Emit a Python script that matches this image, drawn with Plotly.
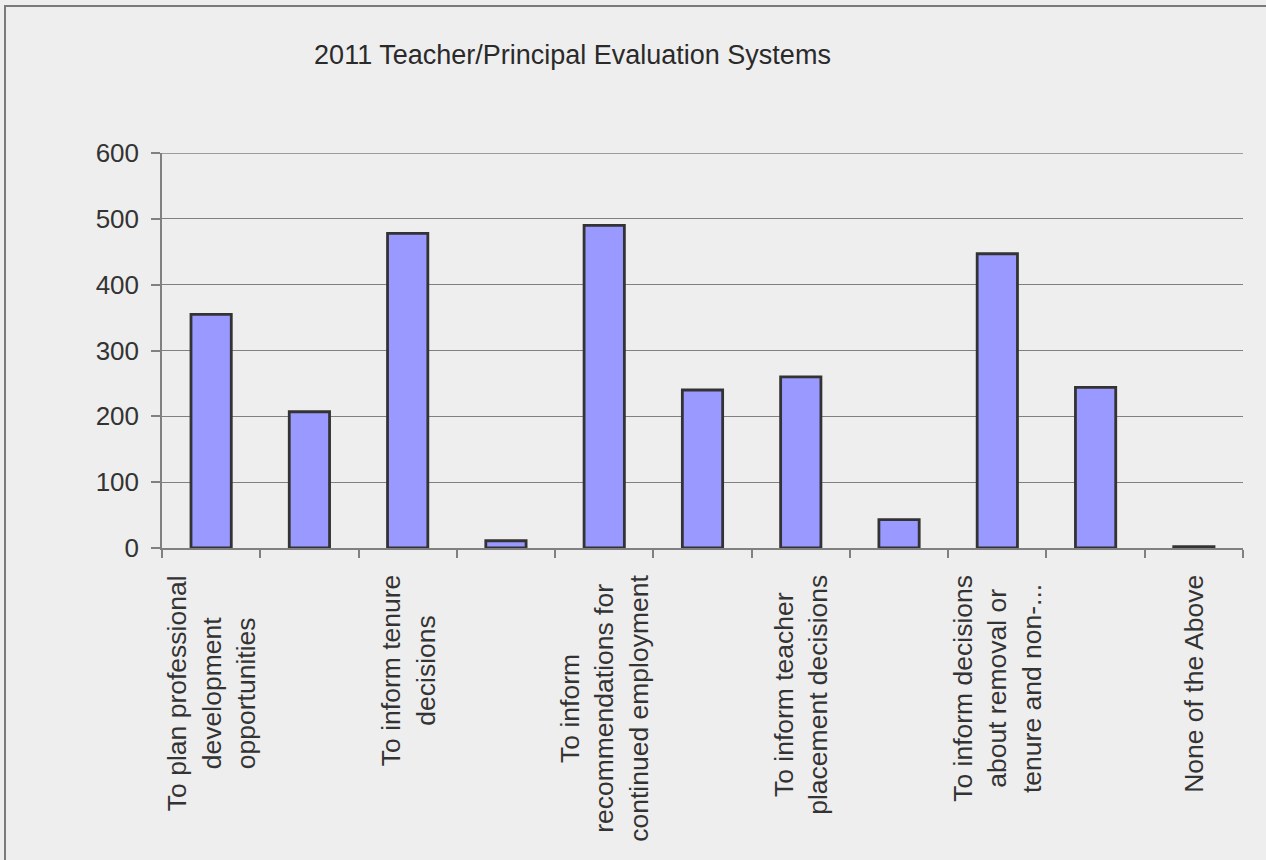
import plotly.graph_objects as go

# ---- data ----
categories = [
    "To plan professional<br>development<br>opportunities",
    "Category 2 (label not shown)",
    "To inform tenure<br>decisions",
    "Category 4 (label not shown)",
    "To inform<br>recommendations for<br>continued employment",
    "Category 6 (label not shown)",
    "To inform teacher<br>placement decisions",
    "Category 8 (label not shown)",
    "To inform decisions<br>about removal or<br>tenure and non-...",
    "Category 10 (label not shown)",
    "None of the Above",
]
label_shown = [True, False, True, False, True, False, True, False, True, False, True]
values = [355, 207, 478, 11, 490, 240, 260, 43, 447, 244, 2]
y_ticks = [0, 100, 200, 300, 400, 500, 600]
title_text = "2011 Teacher/Principal Evaluation Systems"

FONT = "Liberation Sans, Arial, sans-serif"
TXT = "#333333"
GRID = "#808080"

fig = go.Figure()
fig.add_trace(go.Bar(
    x=categories, y=values,
    marker=dict(color="#9999ff", line=dict(color="#333333", width=2.8)),
    showlegend=False, hoverinfo="x+y",
))

for cat, show in zip(categories, label_shown):
    if show:
        fig.add_annotation(
            x=cat, xref="x", y=0, yref="y",
            text=cat, textangle=-90, showarrow=False,
            xanchor="center", yanchor="top", yshift=-25,
            align="center",
            font=dict(family=FONT, size=26.5, color=TXT),
        )

fig.update_layout(
    width=1266, height=860,
    paper_bgcolor="#eeeeee", plot_bgcolor="#eeeeee",
    margin=dict(l=162, r=23, t=153, b=312, autoexpand=False),
    bargap=0.59,
    title=dict(
        text=title_text, xref="container", yref="container",
        x=572.5 / 1266, y=1 - 55 / 860, xanchor="center", yanchor="middle",
        font=dict(family=FONT, size=27, color="#2a2a2a"),
    ),
    xaxis=dict(
        type="category", showticklabels=False, showgrid=False,
        showline=True, linecolor=GRID, linewidth=1.5,
        ticks="outside", tickson="boundaries", ticklen=8,
        tickcolor=GRID, tickwidth=1.5,
        range=[-0.5, len(categories) - 0.5],
    ),
    yaxis=dict(
        range=[0, 600], tickvals=y_ticks,
        showgrid=True, gridcolor=GRID, gridwidth=1.3,
        zeroline=False,
        showline=True, linecolor=GRID, linewidth=1.5,
        ticks="outside", ticklen=9, tickcolor=GRID, tickwidth=1.5,
        ticklabelstandoff=7,
        tickfont=dict(family=FONT, size=26, color=TXT),
    ),
    shapes=[
        dict(
            type="rect", xref="paper", yref="paper",
            x0=-157 / 1081, x1=1.2, y0=-1.0, y1=1 + 147 / 395,
            line=dict(color="#7a7a7a", width=2), fillcolor="rgba(0,0,0,0)",
            layer="below",
        ),
        dict(
            type="line", xref="paper", yref="y",
            x0=0, x1=1, y0=y_ticks[-1], y1=y_ticks[-1],
            line=dict(color=GRID, width=1.3), layer="below",
        ),
    ],
)

fig.write_html("out.html")
